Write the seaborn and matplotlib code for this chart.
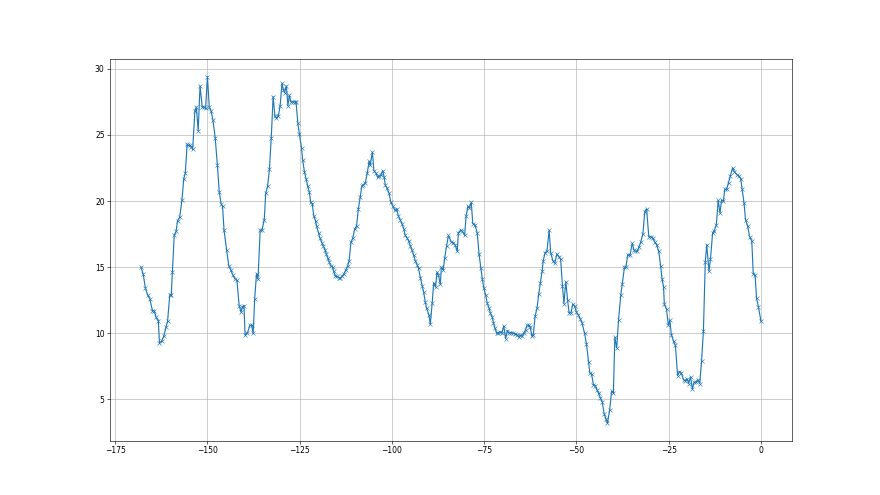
import matplotlib
matplotlib.use("Agg")
import matplotlib.pyplot as plt
import seaborn as sns
import pandas as pd

hours = [
    -168.0, -167.4, -166.8, -166.2, -165.6, -164.9, -164.4, -163.9, -163.3, -163.0,
    -162.4, -161.8, -161.2, -160.8, -160.2, -159.8, -159.5, -159.0, -158.5, -158.1,
    -157.5, -156.9, -156.4, -156.0, -155.5, -155.2, -154.8, -154.4, -154.0, -153.4,
    -153.0, -152.5, -152.0, -151.4, -150.9, -150.5, -150.0, -149.5, -149.0, -148.5,
    -147.9, -147.3, -146.8, -146.3, -145.9, -145.5, -144.8, -144.2, -143.7, -143.1,
    -142.5, -142.0, -141.4, -140.9,
    -140.5, -140.1, -139.8, -139.2, -138.5, -138.0, -137.6, -137.2, -136.7, -136.3,
    -135.7, -135.2, -134.6, -134.2, -133.7, -133.2, -132.7, -132.2, -131.7, -131.3,
    -130.8, -130.3, -129.8, -129.4, -129.1, -128.6, -128.2, -127.8, -127.4, -126.9,
    -126.4, -126.0, -125.5, -125.1, -124.5, -124.2, -123.7, -123.3, -122.8, -122.4,
    -122.0, -121.6, -121.2, -120.7, -120.4, -119.9, -119.5, -118.9, -118.6, -118.1,
    -117.8, -117.4, -117.0, -116.6, -116.1, -115.8, -115.3, -114.9, -114.4, -114.0,
    -113.5,
    -113.0, -112.5, -112.0, -111.6, -111.1, -110.6, -110.1, -109.6, -109.1, -108.6,
    -108.2, -107.8, -107.2, -106.7, -106.2, -105.9, -105.3, -104.9, -104.3, -103.9,
    -103.4, -103.0, -102.5, -102.1, -101.8, -101.4, -100.8, -100.3, -99.7, -99.2,
    -98.7, -98.3, -97.8, -97.3, -96.8, -96.4, -95.9, -95.5, -95.0, -94.6,
    -94.1, -93.7, -93.2, -92.8, -92.3, -91.8, -91.4, -91.0, -90.6, -90.0,
    -89.6, -89.1, -88.7, -88.2, -87.8, -87.4, -86.9, -86.6, -86.1, -85.7,
    -85.2, -84.7,
    -83.9, -83.4, -82.9, -82.3, -82.0, -81.4, -80.9, -80.3, -79.9, -79.4,
    -79.0, -78.5, -78.1, -77.5, -76.9, -76.4, -75.9, -75.5, -75.1, -74.6,
    -74.2, -73.7, -73.3, -72.8, -72.5, -72.1, -71.6, -71.2, -70.7, -70.2,
    -69.7, -69.2, -68.7, -68.2, -67.7, -67.1, -66.6, -66.1, -65.7, -65.2,
    -64.8, -64.3, -63.8, -63.4, -63.0, -62.5, -62.1, -61.7, -61.2, -60.7,
    -60.2, -59.8, -59.3, -59.0, -58.5, -58.0, -57.4, -57.0, -56.4, -55.9,
    -55.3, -54.8, -54.3, -53.8, -53.4, -52.9, -52.4, -52.0, -51.5, -51.0,
    -50.5, -50.0, -49.5, -49.0, -48.5, -47.8, -47.3, -46.7, -46.4, -45.9,
    -45.4, -44.9, -44.5, -44.0, -43.5, -43.0, -42.5, -42.0, -41.6, -41.0,
    -40.5, -40.0, -39.6, -39.1, -38.6, -38.0, -37.6, -37.0, -36.6, -36.1,
    -35.5, -34.9, -34.4, -34.1, -33.5, -33.1, -32.6, -32.0, -31.5, -31.0,
    -30.4, -29.9, -29.3, -28.8, -28.3, -27.7, -27.2, -26.8, -26.4,
    -26.2, -25.6, -25.1, -24.7, -24.3, -23.7, -23.2, -22.6, -22.1, -21.6,
    -21.0, -20.5, -20.0, -19.6, -19.1, -18.6, -18.1, -17.6, -17.1, -16.6,
    -16.1, -15.6, -15.1, -14.7, -14.1, -13.7, -13.1, -12.7, -12.1, -11.6,
    -11.1, -10.7, -10.2, -9.8, -9.3, -8.8, -8.3, -7.7, -7.2, -6.5,
    -6.0, -5.5, -5.1, -4.6, -4.2, -3.6, -3.1, -2.5, -2.1, -1.6,
    -1.2, -0.7, 0.0,
]

values = [
    15.0, 14.47, 13.4, 12.9, 12.6, 11.7, 11.7, 11.2, 10.96, 9.3,
    9.4, 9.8, 10.5, 10.9, 12.9, 12.9, 14.6, 17.4, 17.7, 18.5,
    18.8, 20.1, 21.7, 22.1, 24.3, 24.2, 24.2, 24.1, 23.9, 26.8,
    27.1, 25.3, 28.7, 27.1, 27.1, 27.0, 29.4, 27.1, 26.8, 26.1,
    24.8, 22.7, 20.7, 19.8, 19.6, 17.8, 16.3, 15.1, 14.8, 14.4,
    14.1, 14.0, 12.1, 11.6,
    12.0, 12.1, 9.9, 10.0, 10.6, 10.6, 10.0, 12.6, 14.5, 14.1,
    17.8, 17.8, 18.6, 20.6, 21.1, 22.4, 24.8, 27.9, 26.4, 26.3,
    26.4, 27.2, 28.9, 28.4, 28.2, 28.7, 27.2, 28.0, 27.5, 27.5,
    27.5, 27.5, 25.9, 25.1, 24.0, 23.1, 22.2, 21.7, 21.1, 20.7,
    19.9, 19.8, 18.9, 18.5, 18.1, 17.6, 17.2, 16.8, 16.6, 16.3,
    16.0, 15.7, 15.4, 15.1, 15.0, 14.7, 14.3, 14.3, 14.2, 14.2,
    14.3,
    14.5, 14.8, 15.1, 15.5, 16.9, 17.2, 17.9, 18.1, 19.4, 20.3,
    21.1, 21.2, 21.4, 22.1, 23.0, 22.7, 23.7, 22.3, 22.1, 21.8,
    21.9, 22.0, 22.3, 21.8, 21.2, 21.0, 20.6, 19.9, 19.6, 19.3,
    19.4, 18.9, 18.6, 18.3, 17.9, 17.4, 17.2, 17.0, 16.6, 16.3,
    15.9, 15.5, 15.2, 14.9, 14.2, 13.6, 13.1, 12.4, 11.9, 11.4,
    10.7, 12.3, 13.8, 13.5, 14.6, 14.4, 13.7, 15.0, 14.8, 15.7,
    16.6, 17.4,
    16.9, 16.85, 16.7, 16.2, 17.6, 17.8, 17.7, 17.4, 18.9, 19.6,
    19.5, 19.9, 18.3, 18.2, 17.6, 16.0, 14.9, 14.1, 13.4, 12.9,
    12.3, 11.9, 11.5, 11.2, 10.8, 10.4, 10.0, 10.05, 10.1, 10.05,
    10.55, 9.6, 10.2, 10.0, 10.05, 10.0, 9.95, 9.9, 9.75, 9.85,
    9.8, 10.0, 10.25, 10.6, 10.6, 10.45, 9.8, 9.9, 11.3, 11.9,
    13.0, 13.8, 14.7, 15.5, 16.1, 16.2, 17.8, 16.1, 15.5, 15.3,
    16.0, 15.8, 15.6, 13.6, 12.25, 13.9, 12.5, 11.55, 11.55, 12.2,
    12.05, 11.6, 11.4, 11.1, 10.8, 10.0, 9.2, 7.8, 7.0, 6.9,
    6.1, 6.05, 5.75, 5.45, 5.1, 4.8, 3.9, 3.5, 3.2, 4.2,
    5.6, 5.5, 9.7, 8.9, 11.0, 12.9, 13.7, 15.0, 15.0, 15.95,
    15.9, 16.8, 16.3, 16.2, 16.2, 16.5, 16.9, 17.5, 19.2, 19.4,
    17.3, 17.3, 17.2, 16.9, 16.7, 16.2, 15.1, 14.1, 13.5,
    12.2, 11.8, 10.6, 11.0, 9.9, 9.4, 9.1, 6.8, 7.1, 7.0,
    6.5, 6.4, 6.55, 6.2, 6.7, 5.8, 6.3, 6.3, 6.5, 6.2,
    7.9, 10.2, 15.4, 16.7, 14.7, 15.6, 17.6, 17.75, 18.2, 20.05,
    19.1, 20.05, 20.0, 20.9, 20.9, 21.4, 21.9, 22.5, 22.2, 22.0,
    21.9, 21.7, 20.9, 19.85, 18.6, 18.1, 17.3, 17.0, 14.5, 14.4,
    12.65, 12.0, 10.9,
]

df = pd.DataFrame({"hour": hours, "value": values})

fig, ax = plt.subplots(figsize=(16, 9), dpi=55)
sns.lineplot(data=df, x="hour", y="value", marker="x", markersize=6,
             markeredgecolor="#1f77b4", color="#1f77b4", linewidth=1.5,
             sort=False, estimator=None, ax=ax)
ax.set_xlabel("")
ax.set_ylabel("")
ax.grid(True, color="#b0b0b0", linewidth=0.8)
ax.set_xticks([-175, -150, -125, -100, -75, -50, -25, 0])
ax.set_yticks([5, 10, 15, 20, 25, 30])
fig.subplots_adjust(left=0.125, right=0.9, bottom=0.11, top=0.88)
fig.savefig("out.png", dpi=55)
